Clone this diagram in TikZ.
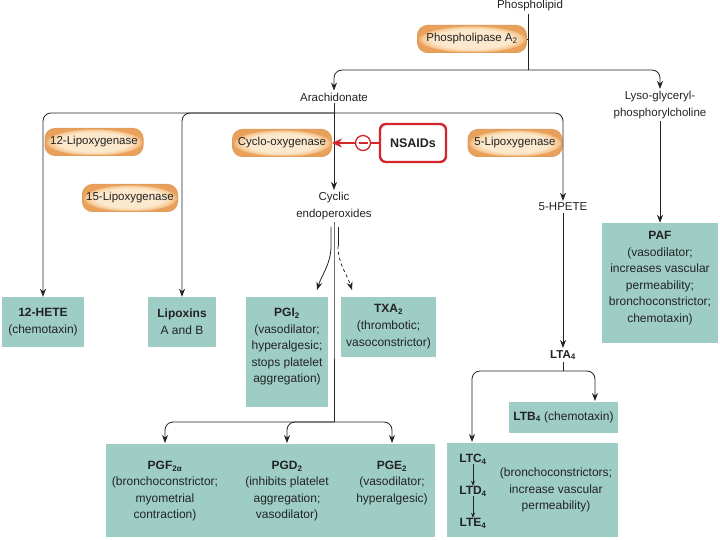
\documentclass[tikz,border=0pt]{standalone}
\usepackage{fontspec}
\setmainfont{Liberation Sans}
\usetikzlibrary{arrows.meta}
\definecolor{tealbox}{RGB}{158,205,198}
\definecolor{pillin}{RGB}{252,232,204}
\definecolor{pillmid}{RGB}{246,200,146}
\definecolor{pillout}{RGB}{232,160,90}
\definecolor{pilledge}{RGB}{226,156,92}
\definecolor{nsred}{RGB}{210,38,44}
\definecolor{lncol}{RGB}{35,35,35}
\pgfdeclareradialshading{pillshade}{\pgfpoint{0bp}{0bp}}{color(0bp)=(pillin); color(18bp)=(pillin); color(23bp)=(pillmid); color(25bp)=(pillout); color(50bp)=(pillout)}
\tikzset{
  lbl/.style={inner sep=2pt, align=center, text=lncol, font=\fontsize{11.5pt}{17pt}\selectfont},
  pill/.style={draw=pilledge, line width=1pt, rounded corners=10pt, shade, shading=pillshade,
    minimum height=27pt, inner xsep=2pt, text=lncol, font=\fontsize{11.5pt}{17pt}\selectfont},
  tbox/.style={fill=tealbox, inner sep=0pt, align=center, text=lncol, font=\fontsize{12pt}{17pt}\selectfont},
  ttext/.style={inner sep=0pt, align=center, text=lncol, font=\fontsize{12pt}{16.5pt}\selectfont},
  nsbox/.style={draw=nsred, line width=2.4pt, rounded corners=6pt, fill=white, minimum width=66pt,
    minimum height=38pt, font=\fontsize{12.5pt}{15pt}\selectfont\bfseries, text=lncol},
  conn/.style={draw=lncol, line width=0.8pt},
  arr/.style={conn, -{Stealth[length=8pt,width=6pt]}},
  sarr/.style={conn, line width=0.6pt, -{Stealth[length=5pt,width=4pt]}},
  rc/.style={rounded corners=8pt},
}
\begin{document}
\begin{tikzpicture}[x=1pt,y=-1pt]
\useasboundingbox (0,0) rectangle (720,540);

% top level
\node[lbl] (phos) at (530,6) {Phospholipid};
\node[pill, minimum width=109pt] (pla) at (472,39) {Phospholipase A\textsubscript{2}};
\node[lbl] (arach) at (334,97) {Arachidonate};
\node[lbl] (lyso) at (660,105) {Lyso-glyceryl-\\phosphorylcholine};

% enzymes
\node[pill, minimum width=98pt] (lox12) at (94,142) {12-Lipoxygenase};
\node[pill, minimum width=95pt] (lox15) at (130,198) {15-Lipoxygenase};
\node[pill, minimum width=99pt] (cox) at (282,143) {Cyclo-oxygenase};
\node[pill, minimum width=94pt] (lox5) at (515,143) {5-Lipoxygenase};
\node[nsbox] (nsaid) at (413,143) {NSAIDs};
\node[circle, draw=nsred, line width=1.3pt, fill=white, minimum size=15pt, inner sep=0pt] (minus) at (363,143) {};
\draw[nsred, line width=1.3pt] ([xshift=-4.5pt]minus.center) -- ([xshift=4.5pt]minus.center);

% intermediates
\node[lbl] (cyclic) at (334,206) {Cyclic\\endoperoxides};
\node[lbl] (hpete) at (563,207) {5-HPETE};
\node[lbl, font=\fontsize{11.5pt}{17pt}\selectfont\bfseries] (lta) at (563,355) {LTA\textsubscript{4}};

% teal boxes
\node[tbox, minimum width=82pt, minimum height=50pt] (hete) at (43,322) {\textbf{12-HETE}\\(chemotaxin)};
\node[tbox, minimum width=68pt, minimum height=50pt] (lipox) at (182,322) {\textbf{Lipoxins}\\A and B};
\node[tbox, minimum width=82pt, minimum height=110pt] (pgi) at (287,352) {};
\node[ttext] (pgitxt) at (287,347) {\textbf{PGI\textsubscript{2}}\\(vasodilator;\\hyperalgesic;\\stops platelet\\aggregation)};
\node[tbox, minimum width=95pt, minimum height=60pt] (txa) at (388.5,327) {\textbf{TXA\textsubscript{2}}\\(thrombotic;\\vasoconstrictor)};
\node[tbox, minimum width=116pt, minimum height=120pt] (paf) at (660,283) {};
\node[ttext] (paftxt) at (660,278) {\textbf{PAF}\\(vasodilator;\\increases vascular\\permeability;\\bronchoconstrictor;\\chemotaxin)};
\node[tbox, minimum width=109pt, minimum height=31pt] (ltb) at (563.5,417) {\textbf{LTB\textsubscript{4}} (chemotaxin)};
\node[tbox, minimum width=171pt, minimum height=94pt] (ltc) at (532.5,490) {};
\node[ttext, font=\fontsize{12pt}{16pt}\selectfont\bfseries] (ltc4) at (473,459) {LTC\textsubscript{4}};
\node[ttext, font=\fontsize{12pt}{16pt}\selectfont\bfseries] (ltd4) at (473,491) {LTD\textsubscript{4}};
\node[ttext, font=\fontsize{12pt}{16pt}\selectfont\bfseries] (lte4) at (473,523) {LTE\textsubscript{4}};
\node[ttext] (ltctxt) at (556,490) {(bronchoconstrictors;\\increase vascular\\permeability)};
\node[tbox, minimum width=329pt, minimum height=93pt] (pg) at (270.5,490.5) {};
\node[ttext] (pgf) at (165,491) {\textbf{PGF\textsubscript{2α}}\\(bronchoconstrictor;\\myometrial\\contraction)};
\node[ttext] (pgd) at (287,491) {\textbf{PGD\textsubscript{2}}\\(inhibits platelet\\aggregation;\\vasodilator)};
\node[ttext] (pge) at (392,483) {\textbf{PGE\textsubscript{2}}\\(vasodilator;\\hyperalgesic)};

% junction coordinates
\coordinate (j0) at (528,70);
\coordinate (j1) at (334,113);
\coordinate (j2) at (563,371);
\coordinate (j3) at (334,422);
\coordinate (ltbin) at (595,401);
\coordinate (ltcin) at (472,442);
\coordinate (pgfin) at (165,443);
\coordinate (pgdin) at (287,443);
\coordinate (pgein) at (392,443);
\coordinate (cl) at (331,227);
\coordinate (cr) at (338,227);
\coordinate (cl2) at (331,246);
\coordinate (cr2) at (338,246);
\coordinate (pgiin) at (317,290);
\coordinate (txain) at (352,290);

% connectors
\draw[conn] (phos.south -| j0) -- (j0);
\draw[conn] (pla.east) -- (pla.east -| j0);
\draw[arr, rc] (j0) -| (arach.north);
\draw[arr, rc] (j0) -| (lyso.north);
\draw[arr] (arach.south) -- (cyclic.north);
\draw[arr, rc] (j1) -| (hete.north);
\draw[arr, rc] (j1) -| (lipox.north);
\draw[arr, rc] (j1) -| (hpete.north);
\draw[arr] (lyso.south) -- (paf.north);
\draw[arr] (hpete.south) -- (lta.north);
\draw[conn] (lta.south) -- (j2);
\draw[arr, rc] (j2) -| (ltbin);
\draw[arr, rc] (j2) -| (ltcin);
\draw[sarr] (ltc4.south) -- (ltd4.north);
\draw[sarr] (ltd4.south) -- (lte4.north);

% cyclic endoperoxides branches
\draw[arr] (cl) -- (cl2) .. controls (331,264) and (322,274) .. (pgiin);
\draw[conn] (cr) -- (cr2);
\draw[arr, dashed] (cr2) .. controls (338,264) and (347,274) .. (txain);
\draw[conn] (cyclic.south) -- (pgi.north -| j3) -- (j3);
\draw[arr, rc] (j3) -| (pgfin);
\draw[arr, rc] (j3) -| (pgdin);
\draw[arr, rc] (j3) -| (pgein);

% NSAID inhibition
\draw[nsred, line width=1.5pt] (nsaid.west) -- (minus.east);
\draw[nsred, line width=1.5pt, -{Stealth[length=10pt,width=9pt]}] (minus.west) -- (cox.east);
\end{tikzpicture}
\end{document}
